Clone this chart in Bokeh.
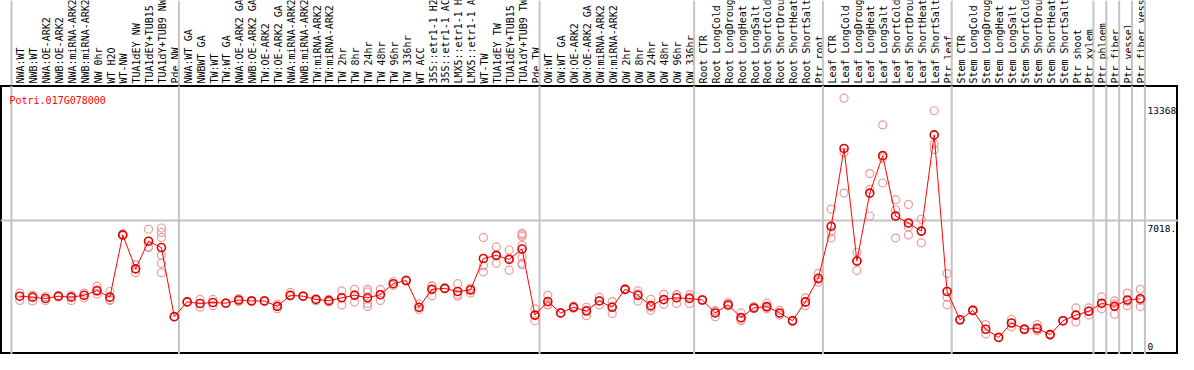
import math
from bokeh.plotting import figure
from bokeh.models import Range1d, Span
from bokeh.layouts import column
from bokeh.embed import file_html
from bokeh.resources import INLINE
from bokeh.core.properties import value

# ---------------- data ----------------
labels = [
    "NWA:WT", "NWB:WT", "NWA:OE-ARK2", "NWB:OE-ARK2", "NWA:miRNA-ARK2", "NWB:miRNA-ARK2",
    "NW 0hr", "WT H2O", "WT-NW", "TUA1dEY NW", "TUA1dEY+TUB15", "TUA1dY+TUB9 NW", "Pde NW",
    "NWA:WT GA", "NWBWT GA", "TW:WT", "TW:WT GA", "NWA:OE-ARK2 GA", "NWB:OE-ARK2 GA",
    "TW:OE-ARK2", "TW:OE-ARK2 GA", "NWA:miRNA-ARK2", "NWB:miRNA-ARK2", "TW:miRNA-ARK2",
    "TW:miRNA-ARK2", "TW 2hr", "TW 8hr", "TW 24hr", "TW 48hr", "TW 96hr", "TW 336hr",
    "WT ACC", "35S::etr1-1 H2", "35S::etr1-1 AC", "LMX5::etr1-1 H", "LMX5::etr1-1 A",
    "WT-TW", "TUA1dEY TW", "TUA1dEY+TUB15", "TUA1dY+TUB9 TW", "Pde TW",
    "OW:WT", "OW:WT GA", "OW:OE-ARK2", "OW:OE-ARK2 GA", "OW:miRNA-ARK2", "OW:miRNA-ARK2",
    "OW 2hr", "OW 8hr", "OW 24hr", "OW 48hr", "OW 96hr", "OW 336hr",
    "Root CTR", "Root LongCold", "Root LongDroug", "Root LongHeat", "Root LongSalt",
    "Root ShortCold", "Root ShortDrou", "Root ShortHeat", "Root ShortSalt", "Ptr root",
    "Leaf CTR", "Leaf LongCold", "Leaf LongDroug", "Leaf LongHeat", "Leaf LongSalt",
    "Leaf ShortCold", "Leaf ShortDrou", "Leaf ShortHeat", "Leaf ShortSalt", "Ptr leaf",
    "Stem CTR", "Stem LongCold", "Stem LongDroug", "Stem LongHeat", "Stem LongSalt",
    "Stem ShortCold", "Stem ShortDrou", "Stem ShortHeat", "Stem ShortSalt", "Ptr shoot",
    "Ptr xylem", "Ptr phloem", "Ptr fiber", "Ptr vessel", "Ptr fiber vess",
]

means = [
    3079, 3030, 2962, 3079, 3030, 3128, 3373, 3030, 6266, 4501, 5938, 5609, 2015,
    2785, 2702, 2751, 2716, 2883, 2834, 2834, 2554, 3128, 3079, 2912, 2849, 2996,
    3128, 2996, 3158, 3731, 3893, 2505, 3437, 3486, 3324, 3403, 5040, 5202, 4991,
    5530, 2098,
    2800, 2211, 2505, 2309, 2834, 2505, 3437, 3128, 2589, 2912, 2996, 2962,
    2883, 2211, 2638, 1966, 2471, 2540, 2211, 1804, 2785, 4010,
    6707, 10757, 4908, 8438, 10384, 7247, 6884, 6462, 11463, 3324,
    1853, 2344, 1363, 936, 1687, 1363, 1412, 1084, 1804, 2098, 2295,
    2716, 2554, 2883, 2947,
]

replicates = [
    [3241, 2863], [3128, 2834], [3059, 2863], [3040, 3110], [3128, 2863], [3241, 2996],
    [3599, 3324, 3200], [3324, 2863, 2900], [6315, 6232], [4712, 4305], [6560, 5609, 5645],
    [6624, 6394, 6134, 5202, 4795, 4305], [2000, 2030],
    [2760, 2810], [2912, 2505], [2912, 2589], [2700, 2740], [2962, 2800], [2800, 2870],
    [2810, 2860], [2667, 2422], [3275, 3079], [3060, 3100], [2962, 2834], [2912, 2785],
    [3354, 2618, 3016], [3437, 3150, 2785], [3437, 2702, 2540, 3300], [3437, 2863, 3170],
    [3844, 3648], [3870, 3920], [2667, 2393], [3599, 3108, 3600], [3460, 3510],
    [3731, 3079, 3160], [3486, 3241, 3480], [6134, 4663, 4334], [5643, 4795, 5170],
    [5481, 4432, 5060], [6345, 6266, 6183, 5727, 5119, 4795, 4712], [2422, 1804, 2070],
    [3128, 2640, 2630], [2190, 2230], [2450, 2560], [2505, 2064, 2360], [3030, 2618, 2850],
    [2800, 2177, 2540], [3410, 3460], [3354, 2834, 3200], [2912, 2344, 2510],
    [3192, 2667, 2880], [3158, 2702, 3130], [3158, 2702, 3030],
    [2860, 2910], [2015, 2300, 2320], [2751, 2580, 2580], [2211, 1883, 1800],
    [2540, 2422, 2450], [2716, 2422, 2480], [2344, 2098, 2190], [1780, 1830],
    [2996, 2589, 2770], [4271, 3815, 3945],
    [7605, 6428, 6099], [13368, 10546, 8438], [5364, 4418, 4940], [9453, 8634, 7247],
    [11983, 10267, 8963], [8095, 7572, 6099], [7850, 6673, 6266], [7080, 5854, 6450],
    [12718, 11002, 10708], [4256, 3030, 2638],
    [1830, 1880], [2320, 2370], [1608, 1118], [920, 950], [1883, 1491], [1330, 1400],
    [1608, 1280, 1350], [1060, 1110], [1790, 1820], [2471, 1736, 2090], [2471, 2098, 2310],
    [3045, 2422, 2680], [2834, 2148, 2680], [3241, 2589, 2820], [3437, 2540, 2860],
]

group_sizes = [13, 28, 12, 10, 10, 11, 1, 1, 1, 1]
gene_id = "Potri.017G078000"
y_tick_values = [13368, 7018, 0]
y_tick_labels = ["13368", "7018.", "0"]

# ---------------- geometry ----------------
W = 1178
H_LAB = 85
H_PLOT = 269
PITCH = 12.88                # px per sample column
COL1_PX = 19.22              # canvas x of the first sample
x_start = 1 - COL1_PX / PITCH
x_end = x_start + W / PITCH
y_start, y_end = 51, 14029
FONT = value("DejaVu Sans Mono")


def x_at(px):
    return x_start + px / PITCH


def y_at(py):
    # py: pixels from the top of the plot figure
    return y_end - py * (y_end - y_start) / H_PLOT


idx = list(range(1, len(labels) + 1))
bounds = [0]
for g in group_sizes:
    bounds.append(bounds[-1] + g)
sep_locs = [b + 0.36 for b in bounds]

GRAY = "#c4c4c4"

# ---------------- label strip ----------------
lab = figure(width=W, height=H_LAB, x_range=Range1d(x_start, x_end), y_range=Range1d(0, H_LAB),
             toolbar_location=None, output_backend="svg", min_border=0,
             x_axis_location=None, y_axis_location=None)
lab.grid.visible = False
lab.outline_line_color = None
for s in sep_locs:
    lab.add_layout(Span(location=s, dimension="height", line_color=GRAY, line_width=2))
lab.text(x=[i + 0.09 for i in idx], y=[2] * len(idx), text=labels, angle=math.pi / 2,
         text_font=FONT, text_font_size="10px", text_align="left",
         text_baseline="alphabetic", text_color="black")

# ---------------- plot ----------------
p = figure(width=W, height=H_PLOT, x_range=lab.x_range, y_range=Range1d(y_start, y_end),
           toolbar_location=None, output_backend="svg", min_border=0,
           x_axis_location=None, y_axis_location=None)
p.grid.visible = False
p.outline_line_color = "black"
p.outline_line_width = 3
for s in sep_locs:
    p.add_layout(Span(location=s, dimension="height", line_color=GRAY, line_width=2, level="underlay"))
p.add_layout(Span(location=y_tick_values[1], dimension="width", line_color=GRAY, line_width=2,
                  level="underlay"))

rx = [i for i, r in zip(idx, replicates) for _ in r]
ry = [v for r in replicates for v in r]
p.scatter(rx, ry, marker="circle", size=8, fill_color=None, line_color="#ec9a9a", line_width=1.2)
p.line(idx, means, line_color="#ff0000", line_width=1)
p.scatter(idx, means, marker="circle", size=8, fill_color=None, line_color="#e00000", line_width=1.6)

p.text(x=[x_at(9)], y=[y_at(14.6)], text=[gene_id], text_font=FONT, text_font_size="10px",
       text_color="#ff0000", text_baseline="alphabetic", text_align="left")

tick_py = [25.2, 143.2, 260.5]
p.text(x=[x_at(1147)] * 3, y=[y_at(t) for t in tick_py], text=y_tick_labels, text_font=FONT,
       text_font_size="9.5px", text_color="black", text_baseline="alphabetic", text_align="left")

layout = column(lab, p)
open("out.html", "w").write(file_html(layout, INLINE))
